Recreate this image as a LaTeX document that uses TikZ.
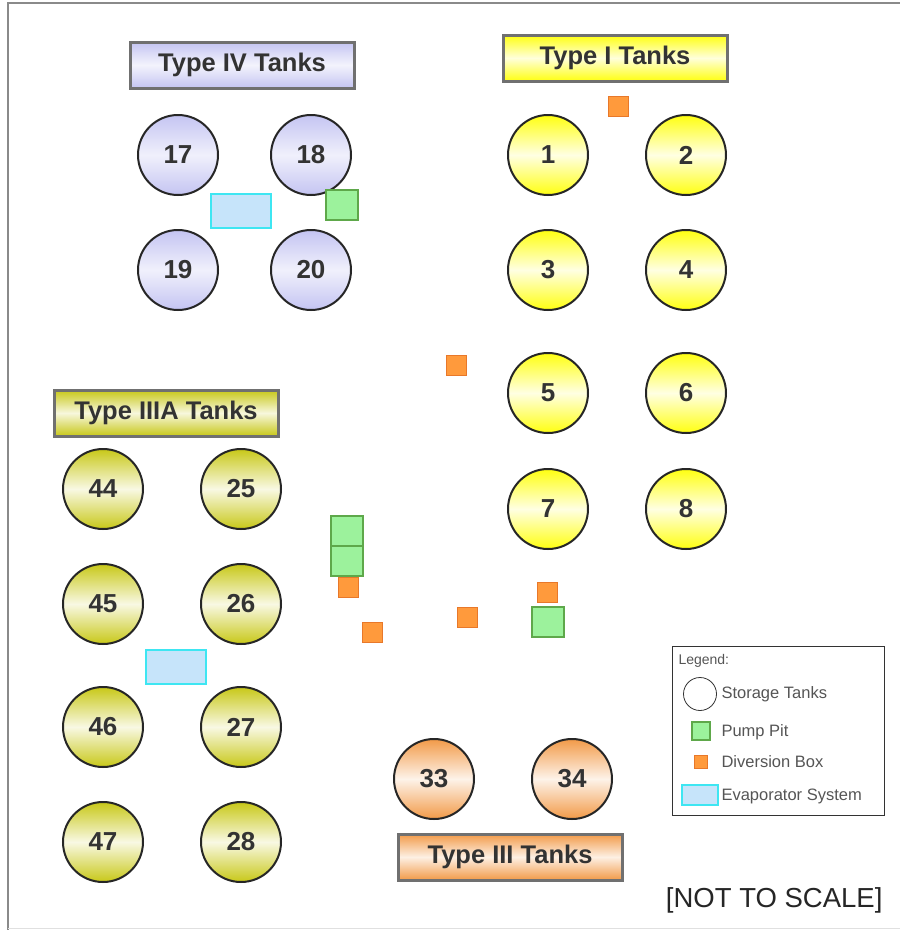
\documentclass[tikz,border=0pt]{standalone}
\usepackage{fontspec}
\setmainfont{Liberation Sans}
\usepackage{xcolor}
\usetikzlibrary{positioning}
\definecolor{frameGray}{HTML}{8A8A8A}
\definecolor{boxGray}{HTML}{707070}
\definecolor{typeIcol}{HTML}{FFFF10}
\definecolor{typeIVcol}{HTML}{C4C4F2}
\definecolor{typeIIIAcol}{HTML}{C8C818}
\definecolor{typeIIIcol}{HTML}{F29A48}
\definecolor{pitGreen}{HTML}{9CF29C}
\definecolor{pitEdge}{HTML}{5EA84A}
\definecolor{divOrange}{HTML}{FF9A3C}
\definecolor{divEdge}{HTML}{E8782A}
\definecolor{evapBlue}{HTML}{C6E4FA}
\definecolor{evapEdge}{HTML}{3EE6F2}
\definecolor{legendText}{HTML}{555555}
\tikzset{
  tank/.style     = {circle, draw=black!85, line width=2pt,
                     minimum size=80pt, inner sep=0pt,
                     font=\fontsize{26}{26}\selectfont\bfseries, text=black!80},
  tankI/.style    = {tank, top color=typeIcol, bottom color=typeIcol,
                     middle color=typeIcol!12},
  tankIV/.style   = {tank, top color=typeIVcol, bottom color=typeIVcol,
                     middle color=typeIVcol!25},
  tankIIIA/.style = {tank, top color=typeIIIAcol, bottom color=typeIIIAcol,
                     middle color=typeIIIAcol!12},
  tankIII/.style  = {tank, top color=typeIIIcol, bottom color=typeIIIcol,
                     middle color=typeIIIcol!12},
  title/.style    = {rectangle, draw=boxGray, line width=3pt,
                     minimum width=224pt, minimum height=46pt, inner sep=0pt,
                     font=\fontsize{25.5}{25.5}\selectfont\bfseries, text=black!80},
  pumppit/.style  = {rectangle, draw=pitEdge, fill=pitGreen, line width=1.2pt,
                     minimum width=32pt, minimum height=30pt, inner sep=0pt},
  divbox/.style   = {rectangle, draw=divEdge, fill=divOrange, line width=0.8pt,
                     minimum size=20pt, inner sep=0pt},
  evap/.style     = {rectangle, draw=evapEdge, fill=evapBlue, line width=1.5pt,
                     minimum width=60pt, minimum height=34pt, inner sep=0pt},
  legtext/.style  = {anchor=west, text=legendText,
                     font=\fontsize{16.5}{16.5}\selectfont}
}
\begin{document}
\begin{tikzpicture}[x=1pt, y=-1pt]
\useasboundingbox (0,0) rectangle (900,930);
\fill[white] (0,0) rectangle (900,930);
\draw[frameGray, line width=2.5pt] (900,3) -- (8,3) -- (8,930);
\draw[black!12, line width=0.8pt] (8,928) -- (900,928);

% Type IV tanks
\node[title, top color=typeIVcol, bottom color=typeIVcol, middle color=typeIVcol!20]
  (titleIV) at (242,65) {Type IV Tanks};
\node[tankIV] (t17) at (178,155) {17};
\node[tankIV] (t18) at (311,155) {18};
\node[tankIV] (t19) at (178,270) {19};
\node[tankIV] (t20) at (311,270) {20};

% Type I tanks
\node[title, top color=typeIcol, bottom color=typeIcol, middle color=typeIcol!15]
  (titleI) at (615,58) {Type I Tanks};
\node[tankI] (t1) at (548,155) {1};
\node[tankI] (t2) at (686,155) {2};
\node[tankI] (t3) at (548,270) {3};
\node[tankI] (t4) at (686,270) {4};
\node[tankI] (t5) at (548,393) {5};
\node[tankI] (t6) at (686,393) {6};
\node[tankI] (t7) at (548,509) {7};
\node[tankI] (t8) at (686,509) {8};

% Type IIIA tanks
\node[title, top color=typeIIIAcol, bottom color=typeIIIAcol, middle color=typeIIIAcol!15]
  (titleIIIA) at (166,413) {Type IIIA Tanks};
\node[tankIIIA] (t44) at (103,489) {44};
\node[tankIIIA] (t25) at (241,489) {25};
\node[tankIIIA] (t45) at (103,604) {45};
\node[tankIIIA] (t26) at (241,604) {26};
\node[tankIIIA] (t46) at (103,727) {46};
\node[tankIIIA] (t27) at (241,727) {27};
\node[tankIIIA] (t47) at (103,842) {47};
\node[tankIIIA] (t28) at (241,842) {28};

% Type III tanks
\node[title, top color=typeIIIcol, bottom color=typeIIIcol, middle color=typeIIIcol!15]
  (titleIII) at (510,857) {Type III Tanks};
\node[tankIII] (t33) at (434,779) {33};
\node[tankIII] (t34) at (572,779) {34};

% evaporators
\node[evap] (evapA) at (241,211) {};
\node[evap] (evapB) at (176,667) {};

% pump pits
\node[pumppit] (pitA) at (342,205) {};
\node[pumppit] (pitB) at (347,531) {};
\node[pumppit] (pitC) at (347,561) {};
\node[pumppit] (pitD) at (548,622) {};

% diversion boxes
\node[divbox] (divA) at (618,106) {};
\node[divbox] (divB) at (456,365) {};
\node[divbox] (divC) at (348,587) {};
\node[divbox] (divD) at (372,632) {};
\node[divbox] (divE) at (467,617) {};
\node[divbox] (divF) at (547,592) {};

% legend
\node[draw=black!80, line width=1pt, minimum width=212pt, minimum height=169pt,
      inner sep=0pt] (legend) at (778,730.5) {};
\node[anchor=north west, text=legendText, font=\fontsize{14}{14}\selectfont]
  (legHead) at (675,651) {Legend:};
\node[circle, draw=black!80, line width=0.8pt, minimum size=33pt, inner sep=0pt]
  (legTank) at (700,694) {};
\node[legtext] (legTankTxt) at (718,694) {Storage Tanks};
\node[pumppit, minimum width=18pt, minimum height=18pt] (legPit) at (701,731) {};
\node[legtext] (legPitTxt) at (718,732) {Pump Pit};
\node[divbox, minimum size=13pt] (legDiv) at (701,762) {};
\node[legtext] (legDivTxt) at (718,762) {Diversion Box};
\node[evap, minimum width=36pt, minimum height=20pt] (legEvap) at (700,795) {};
\node[legtext] (legEvapTxt) at (718,796) {Evaporator System};

\node[font=\fontsize{27.5}{27.5}\selectfont, anchor=east, text=black!85]
  (scale) at (886,900) {[NOT TO SCALE]};
\end{tikzpicture}
\end{document}
